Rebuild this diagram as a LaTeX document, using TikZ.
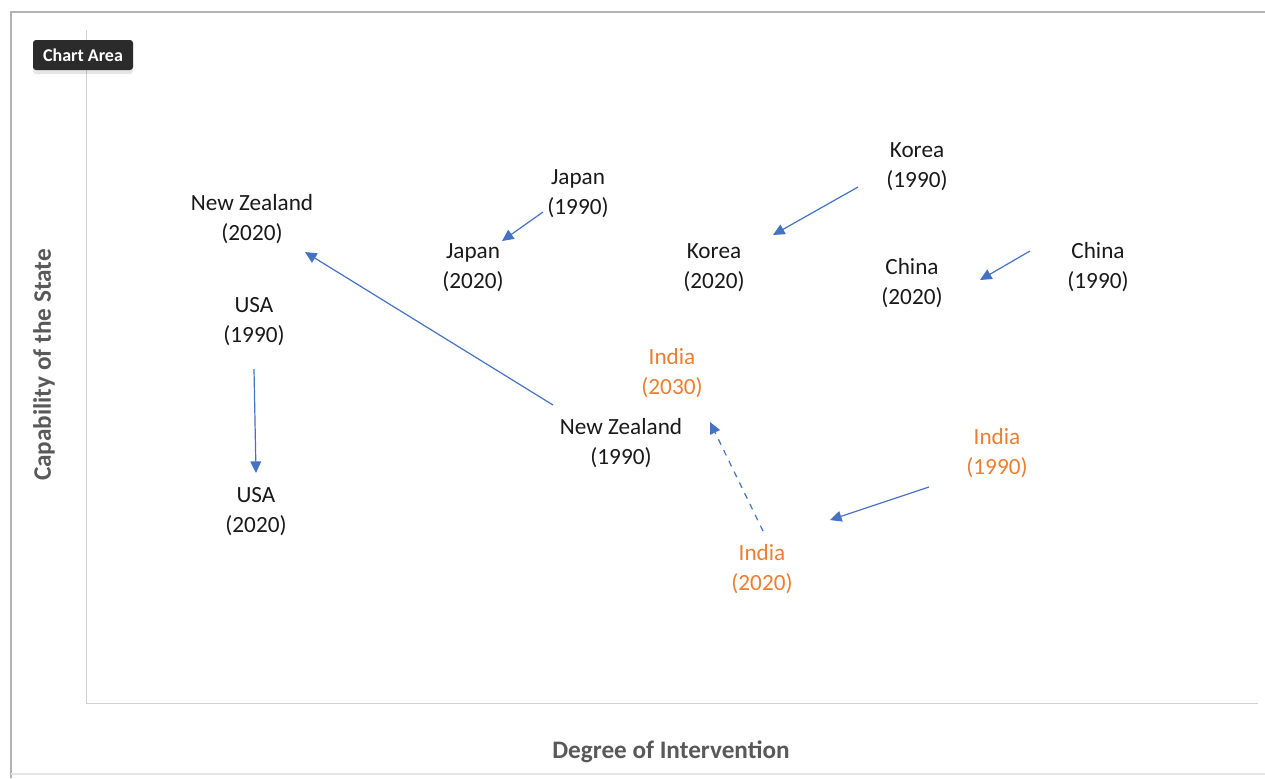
\documentclass[tikz,border=0pt]{standalone}
\usepackage{fontspec}
\setmainfont{Carlito}
\usepackage{tikz}
\usetikzlibrary{arrows.meta, shadows}
\definecolor{moveblue}{HTML}{4472C4}
\definecolor{indiaorange}{HTML}{ED7D31}
\definecolor{titlegrey}{HTML}{595959}
\tikzset{country/.style={align=center, text=black!90, font=\fontsize{11.6}{15}\selectfont}}
\tikzset{india/.style={country, text=indiaorange}}
\tikzset{move/.style={draw=moveblue, line width=0.6pt, -{Triangle[width=5.4pt, length=5.8pt]}}}
\tikzset{axistitle/.style={text=titlegrey, font=\bfseries\fontsize{12.6}{15}\selectfont}}

\begin{document}
\begin{tikzpicture}[x=0.5pt, y=-0.5pt]
            \useasboundingbox (0, 0) rectangle (1265, 778);
            % frame of the chart
            \draw[black!30, line width=1.2pt] (11, 778) -- (11, 12) -- (1265, 12);
            \draw[black!10, line width=0.6pt] (11, 774) -- (1265, 774);
            \draw[black!18, line width=0.5pt] (86, 30) -- (86, 703) -- (1258, 703);
            % tooltip
            \node[fill=black!83, rounded corners=1.5pt, minimum width=50pt, minimum height=15pt,
                  drop shadow={opacity=0.2, shadow xshift=0pt, shadow yshift=-2pt},
                  text=white, font=\bfseries\fontsize{9}{10}\selectfont] (tip) at (83, 55) {Chart Area};
            % axis titles
            \node[axistitle, rotate=90] (ytitle) at (44, 365) {Capability of the State};
            \node[axistitle] (xtitle) at (671, 752) {Degree of Intervention};
            % countries
            \node[country] (kor90) at (917, 167) {Korea\\(1990)};
            \node[country] (kor20) at (714, 268) {Korea\\(2020)};
            \node[country] (jpn90) at (578, 194) {Japan\\(1990)};
            \node[country] (jpn20) at (473, 268) {Japan\\(2020)};
            \node[country] (chn90) at (1098, 267) {China\\(1990)};
            \node[country] (chn20) at (912, 283) {China\\(2020)};
            \node[country] (nzl90) at (621, 443) {New Zealand\\(1990)};
            \node[country] (nzl20) at (252, 219) {New Zealand\\(2020)};
            \node[country] (usa90) at (254, 322) {USA\\(1990)};
            \node[country] (usa20) at (256, 512) {USA\\(2020)};
            \node[india] (ind90) at (997, 453) {India\\(1990)};
            \node[india] (ind20) at (762, 569) {India\\(2020)};
            \node[india] (ind30) at (672, 373) {India\\(2030)};
            % arrow ends
            \coordinate (korA) at (858, 187);  \coordinate (korB) at (773, 235);
            \coordinate (jpnA) at (543, 212);  \coordinate (jpnB) at (502, 241);
            \coordinate (chnA) at (1030, 251); \coordinate (chnB) at (980, 280);
            \coordinate (usaA) at (254, 369);  \coordinate (usaB) at (256, 473);
            \coordinate (nzlA) at (553, 405);  \coordinate (nzlB) at (305, 252);
            \coordinate (indA) at (929, 487);  \coordinate (indB) at (830, 520);
            \coordinate (indC) at (763, 531);  \coordinate (indD) at (710, 422);
            \foreach \from/\to in {korA/korB, jpnA/jpnB, chnA/chnB, usaA/usaB, nzlA/nzlB, indA/indB} {
                \draw[move] (\from) -- (\to);
            }
            \draw[move, dashed] (indC) -- (indD);
        \end{tikzpicture}
\end{document}
